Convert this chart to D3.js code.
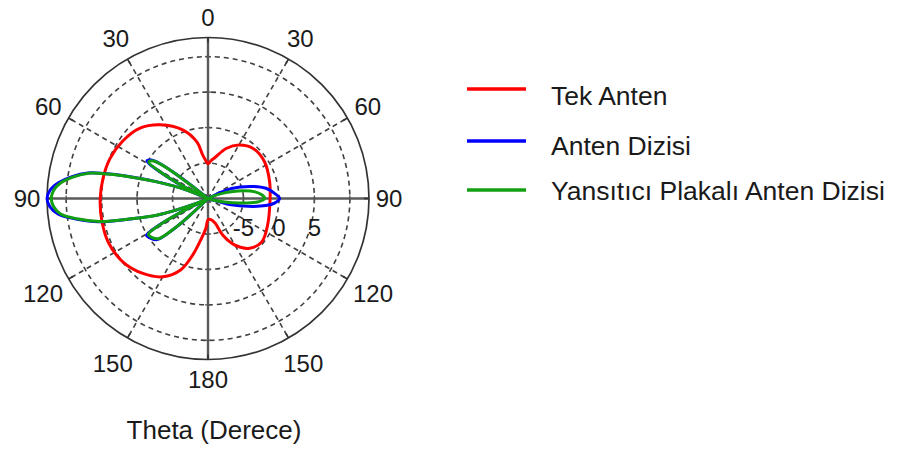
<!DOCTYPE html>
<html>
<head>
<meta charset="utf-8">
<script src="https://cdn.jsdelivr.net/npm/d3@7"></script>
<style>
  html, body { margin: 0; padding: 0; background: #fff; }
  svg { display: block; }
</style>
</head>
<body>
<svg id="chart" width="899" height="454"></svg>
<script>
// ---------- DATA ----------
const angleTicks = [0, 30, 60, 90, 120, 150, 180, 210, 240, 270, 300, 330];
const angleTickLabels = ["0", "30", "60", "90", "120", "150", "180", "150", "120", "90", "60", "30"];
const radialGrid = [-5, 0, 5, 10];
const radialTickLabels = ["-5", "0", "5"];
const radialDomain = [-10, 12.7];

const seriesNames = ["Tek Anten", "Anten Dizisi", "Yansıtıcı Plakalı Anten Dizisi"];

const tekAntenTheta = [0, 4, 10, 20, 30, 42, 57, 75, 93, 114, 129, 140, 150, 158, 164, 172, 180, 184, 189, 195, 201, 210, 221, 233, 246, 258, 270, 281, 292, 304, 316, 327, 340, 349, 353, 357];
const tekAntenDb =    [-5.1, -4.7, -4.1, -2.5, -1.3, -0.5, -0.5, -1.0, -1.25, -0.8, -0.25, -0.85, -2.4, -4.4, -6.4, -7.0, -7.0, -5.8, -4.4, -1.8, 0.8, 2.75, 4.0, 4.95, 5.35, 5.3, 5.2, 5.07, 4.93, 4.5, 3.8, 2.4, 0.27, -1.9, -3.8, -4.7];

const antenDizisiTheta = [0, 30, 62, 67, 74, 80, 86, 90, 94, 97, 101, 105, 112, 140, 180, 215, 224, 227, 228.5, 231, 235, 239, 241.5, 243.5, 245, 247, 250, 252, 255, 258, 261, 264, 267, 270, 273, 276, 279, 282, 283.5, 285, 288, 292, 294.5, 296.5, 299, 301.5, 304, 306, 307.5, 309, 330];
const antenDizisiDb =    [-10, -10, -10, -6.4, -3.8, -1.7, -0.5, 0.1, -0.6, -1.8, -4.2, -6.6, -10, -10, -10, -10, -10, -6.3, -3.3, -0.8, -0.2, 0.1, -2.3, -6.3, -9.5, -8.2, -5.2, -2.3, 1.0, 5.8, 8.7, 11.2, 12.3, 12.7, 12.3, 11.2, 9.5, 7.3, 5.1, 2.5, -2.3, -6.7, -9.8, -5.8, -2.3, 0.1, -0.3, -1.6, -4.8, -10, -10];

const yansiticiTheta = [0, 30, 60, 66, 70, 74, 78, 82, 86, 90, 94, 98, 102, 106, 112, 140, 180, 215, 224, 227, 228.5, 231, 235, 239, 241.5, 243.5, 245, 247, 250, 252, 255, 258, 261, 264, 267, 270, 273, 276, 279, 282, 283.5, 285, 288, 292, 294.5, 296.5, 299, 301.5, 304, 306, 307.5, 309, 330];
const yansiticiDb =    [-10, -10, -10, -9.2, -8.0, -6.6, -4.8, -3.3, -2.4, -2.0, -3.0, -5.5, -7.6, -9.0, -10, -10, -10, -10, -10, -6.5, -3.5, -1.0, -0.4, -0.2, -2.5, -6.5, -9.6, -8.3, -5.3, -2.4, 0.9, 5.6, 8.5, 10.9, 11.8, 12.1, 11.8, 10.9, 9.3, 7.2, 5.0, 2.4, -2.4, -6.8, -9.8, -6.0, -2.5, -0.2, -0.5, -1.8, -5.0, -10, -10];

const seriesColors = ["#ff0000", "#0000ff", "#12a012"];

// ---------- LAYOUT ----------
const svg = d3.select("#chart");
svg.append("rect").attr("width", 899).attr("height", 454).attr("fill", "#fff");

const cx = 208, cy = 198.5, R = 161;
const rScale = d3.scaleLinear().domain(radialDomain).range([0, R]).clamp(true);
const rad = d => d * Math.PI / 180;
const labelFont = "'Liberation Sans', Arial, sans-serif";

const g = svg.append("g").attr("transform", `translate(${cx},${cy})`);

// dashed grid circles
g.selectAll("circle.grid").data(radialGrid).enter().append("circle")
  .attr("class", "grid")
  .attr("r", d => rScale(d))
  .attr("fill", "none")
  .attr("stroke", "#404040")
  .attr("stroke-width", 1.6)
  .attr("stroke-dasharray", "5,4");

// dashed radial spokes (non axis)
g.selectAll("line.spoke").data(angleTicks.filter(a => a % 90 !== 0)).enter().append("line")
  .attr("class", "spoke")
  .attr("x1", 0).attr("y1", 0)
  .attr("x2", a => R * Math.sin(rad(a)))
  .attr("y2", a => -R * Math.cos(rad(a)))
  .attr("stroke", "#404040")
  .attr("stroke-width", 1.6)
  .attr("stroke-dasharray", "5,4");

// solid axes
g.append("line").attr("x1", -R).attr("x2", R).attr("y1", 0).attr("y2", 0)
  .attr("stroke", "#5a5a5a").attr("stroke-width", 2.4);
g.append("line").attr("x1", 0).attr("x2", 0).attr("y1", -R).attr("y2", R)
  .attr("stroke", "#5a5a5a").attr("stroke-width", 2.4);

// small ticks on the axes at grid circles
radialGrid.forEach(v => {
  const rr = rScale(v);
  [[rr, 0, 0, 1], [-rr, 0, 0, 1], [0, rr, 1, 0], [0, -rr, 1, 0]].forEach(([x, y, dx, dy]) => {
    g.append("line")
      .attr("x1", x - dx * 3).attr("x2", x + dx * 3)
      .attr("y1", y - dy * 3).attr("y2", y + dy * 3)
      .attr("stroke", "#555").attr("stroke-width", 1.3);
  });
});

// outer circle
g.append("circle").attr("r", R).attr("fill", "none")
  .attr("stroke", "#333").attr("stroke-width", 1.7);

// outer ticks
g.selectAll("line.otick").data(angleTicks).enter().append("line")
  .attr("x1", a => (R - 5) * Math.sin(rad(a)))
  .attr("y1", a => -(R - 5) * Math.cos(rad(a)))
  .attr("x2", a => R * Math.sin(rad(a)))
  .attr("y2", a => -R * Math.cos(rad(a)))
  .attr("stroke", "#333").attr("stroke-width", 1.7);

// angle labels
const labelRadius = a => 181 + Math.abs(Math.sin(rad(2 * a))) * (Math.cos(rad(a)) > 0 ? 4 : 11);
g.selectAll("text.alabel").data(angleTicks).enter().append("text")
  .attr("x", a => labelRadius(a) * Math.sin(rad(a)))
  .attr("y", a => -labelRadius(a) * Math.cos(rad(a)))
  .attr("text-anchor", "middle")
  .attr("dominant-baseline", "central")
  .attr("font-family", labelFont)
  .attr("font-size", 24)
  .attr("fill", "#1a1a1a")
  .text((a, i) => angleTickLabels[i]);

// radial labels
g.selectAll("text.rlabel").data(radialTickLabels).enter().append("text")
  .attr("x", d => rScale(+d))
  .attr("y", 37)
  .attr("text-anchor", "middle")
  .attr("font-family", labelFont)
  .attr("font-size", 24)
  .attr("fill", "#1a1a1a")
  .text(d => d);

// ---------- SERIES ----------
const series = [
  tekAntenTheta.map((t, i) => ({ t, v: tekAntenDb[i] })),
  antenDizisiTheta.map((t, i) => ({ t, v: antenDizisiDb[i] })),
  yansiticiTheta.map((t, i) => ({ t, v: yansiticiDb[i] }))
];

const line = d3.lineRadial()
  .angle(d => rad(d.t))
  .radius(d => rScale(d.v))
  .curve(d3.curveCatmullRomClosed.alpha(0.5));

series.forEach((s, i) => {
  g.append("path")
    .attr("d", line(s))
    .attr("fill", "none")
    .attr("stroke", seriesColors[i])
    .attr("stroke-width", 3)
    .attr("stroke-linejoin", "round");
});

// axis title
svg.append("text")
  .attr("x", 214).attr("y", 439)
  .attr("text-anchor", "middle")
  .attr("font-family", labelFont)
  .attr("font-size", 26)
  .attr("fill", "#1a1a1a")
  .text("Theta (Derece)");

// ---------- LEGEND ----------
const legendLineY = [89, 141, 190];
const legendTextY = [105, 155, 200];
const legend = svg.append("g");
seriesNames.forEach((name, i) => {
  legend.append("line")
    .attr("x1", 467).attr("x2", 526)
    .attr("y1", legendLineY[i]).attr("y2", legendLineY[i])
    .attr("stroke", seriesColors[i]).attr("stroke-width", 3.5);
  legend.append("text")
    .attr("x", 551).attr("y", legendTextY[i])
    .attr("font-family", labelFont)
    .attr("font-size", 26.5)
    .attr("fill", "#1a1a1a")
    .text(name);
});
</script>
</body>
</html>
